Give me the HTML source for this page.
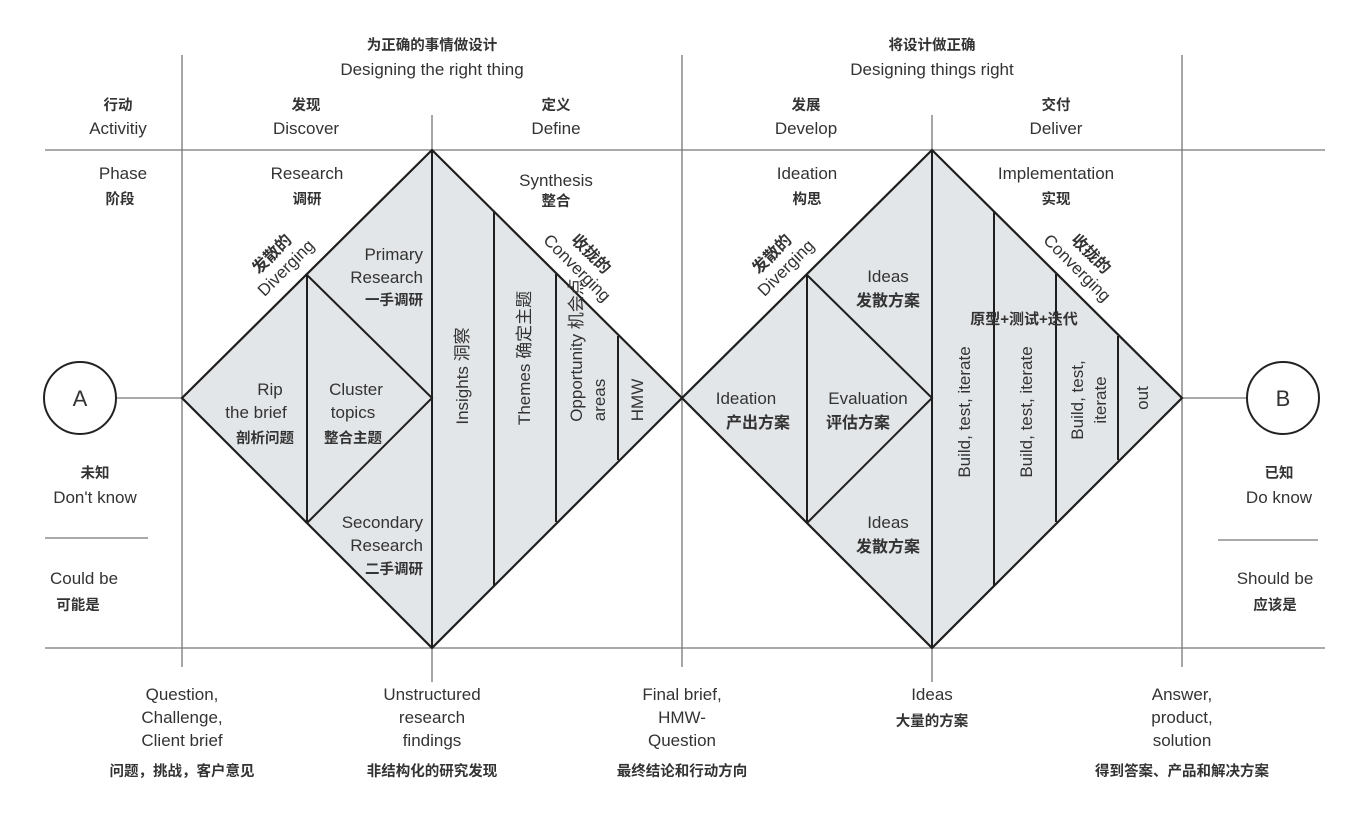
<!DOCTYPE html>
<html><head><meta charset="utf-8"><style>
html,body{margin:0;padding:0;background:#fff;}
svg{display:block;}
text{font-family:"Liberation Sans","Noto Sans CJK SC",sans-serif;fill:#333;text-anchor:middle;}
.e{font-size:17px;}
.c{font-size:14.5px;font-weight:bold;}
</style></head><body>
<svg width="1372" height="826" viewBox="0 0 1372 826">
<g stroke="#777" stroke-width="1.3" fill="none">
<line x1="45" y1="150" x2="1325" y2="150"/>
<line x1="45" y1="648" x2="1325" y2="648"/>
<line x1="182" y1="55" x2="182" y2="667"/>
<line x1="432" y1="115" x2="432" y2="682"/>
<line x1="682" y1="55" x2="682" y2="667"/>
<line x1="932" y1="115" x2="932" y2="682"/>
<line x1="1182" y1="55" x2="1182" y2="667"/>
<line x1="116" y1="398" x2="182" y2="398"/>
<line x1="1182" y1="398" x2="1247" y2="398"/>
<line x1="45" y1="538" x2="148" y2="538"/>
<line x1="1218" y1="540" x2="1318" y2="540"/>
</g>
<circle cx="80" cy="398" r="36" fill="#fff" stroke="#222" stroke-width="2"/>
<circle cx="1283" cy="398" r="36" fill="#fff" stroke="#222" stroke-width="2"/>
<text x="80" y="406" style="font-size:22px">A</text>
<text x="1283" y="406" style="font-size:22px">B</text>
<g stroke="#1e1e1e" stroke-width="2.2" fill="#e3e6e8" stroke-linejoin="miter">
<polygon points="182,398 432,150 682,398 432,648"/>
<polygon points="682,398 932,150 1182,398 932,648"/>
</g>
<g stroke="#1e1e1e" stroke-width="2" fill="none">
<polyline points="307,275 432,398 307,523"/>
<line x1="307" y1="275" x2="307" y2="523"/>
<line x1="432" y1="150" x2="432" y2="648"/>
<line x1="494" y1="212" x2="494" y2="586"/>
<line x1="556" y1="274" x2="556" y2="522"/>
<line x1="618" y1="336" x2="618" y2="460"/>
<polyline points="807,275 932,398 807,523"/>
<line x1="807" y1="275" x2="807" y2="523"/>
<line x1="932" y1="150" x2="932" y2="648"/>
<line x1="994" y1="212" x2="994" y2="586"/>
<line x1="1056" y1="274" x2="1056" y2="522"/>
<line x1="1118" y1="336" x2="1118" y2="460"/>
</g>
<text class="c" x="432" y="50">为正确的事情做设计</text>
<text class="e" x="432" y="75">Designing the right thing</text>
<text class="c" x="932" y="50">将设计做正确</text>
<text class="e" x="932" y="75">Designing things right</text>
<text class="c" x="118" y="110">行动</text><text class="e" x="118" y="134">Activitiy</text>
<text class="c" x="306" y="110">发现</text><text class="e" x="306" y="134">Discover</text>
<text class="c" x="556" y="110">定义</text><text class="e" x="556" y="134">Define</text>
<text class="c" x="806" y="110">发展</text><text class="e" x="806" y="134">Develop</text>
<text class="c" x="1056" y="110">交付</text><text class="e" x="1056" y="134">Deliver</text>
<text class="e" x="123" y="179">Phase</text><text class="c" x="120" y="204">阶段</text>
<text class="e" x="307" y="179">Research</text><text class="c" x="307" y="204">调研</text>
<text class="e" x="556" y="186">Synthesis</text><text class="c" x="556" y="206">整合</text>
<text class="e" x="807" y="179">Ideation</text><text class="c" x="807" y="204">构思</text>
<text class="e" x="1056" y="179">Implementation</text><text class="c" x="1056" y="204">实现</text>
<g transform="translate(280,262) rotate(-45)"><text class="c" x="0" y="-6" style="font-size:16px">发散的</text><text class="e" x="0" y="14">Diverging</text></g>
<g transform="translate(780,262) rotate(-45)"><text class="c" x="0" y="-6" style="font-size:16px">发散的</text><text class="e" x="0" y="14">Diverging</text></g>
<g transform="translate(583,262) rotate(45)"><text class="c" x="0" y="-6" style="font-size:16px">收拢的</text><text class="e" x="0" y="14">Converging</text></g>
<g transform="translate(1083,262) rotate(45)"><text class="c" x="0" y="-6" style="font-size:16px">收拢的</text><text class="e" x="0" y="14">Converging</text></g>
<text class="e" x="423" y="260" style="text-anchor:end">Primary</text>
<text class="e" x="423" y="283" style="text-anchor:end">Research</text>
<text class="c" x="423" y="305" style="text-anchor:end">一手调研</text>
<text class="e" x="423" y="528" style="text-anchor:end">Secondary</text>
<text class="e" x="423" y="551" style="text-anchor:end">Research</text>
<text class="c" x="423" y="574" style="text-anchor:end">二手调研</text>
<text class="e" x="270" y="395">Rip</text>
<text class="e" x="256" y="418">the brief</text>
<text class="c" x="265" y="443">剖析问题</text>
<text class="e" x="356" y="395">Cluster</text>
<text class="e" x="353" y="418">topics</text>
<text class="c" x="353" y="443">整合主题</text>
<text class="e" transform="translate(468,376) rotate(-90)">Insights  洞察</text>
<text class="e" transform="translate(530,358) rotate(-90)">Themes  确定主题</text>
<text class="e" transform="translate(582,350) rotate(-90)">Opportunity 机会点</text>
<text class="e" transform="translate(605,400) rotate(-90)">areas</text>
<text class="e" transform="translate(643,400) rotate(-90)">HMW</text>
<text class="e" x="888" y="282">Ideas</text>
<text class="c" x="888" y="306" style="font-size:16px">发散方案</text>
<text class="e" x="888" y="528">Ideas</text>
<text class="c" x="888" y="552" style="font-size:16px">发散方案</text>
<text class="e" x="746" y="404">Ideation</text>
<text class="c" x="758" y="428" style="font-size:16px">产出方案</text>
<text class="e" x="868" y="404">Evaluation</text>
<text class="c" x="858" y="428" style="font-size:16px">评估方案</text>
<text class="c" x="1024" y="324" style="font-size:15px">原型+测试+迭代</text>
<text class="e" transform="translate(970,412) rotate(-90)">Build, test, iterate</text>
<text class="e" transform="translate(1032,412) rotate(-90)">Build, test, iterate</text>
<text class="e" transform="translate(1083,400) rotate(-90)">Build, test,</text>
<text class="e" transform="translate(1106,400) rotate(-90)">iterate</text>
<text class="e" transform="translate(1148,398) rotate(-90)">out</text>
<text class="c" x="95" y="478">未知</text><text class="e" x="95" y="503">Don't know</text>
<text class="e" x="84" y="584">Could be</text><text class="c" x="78" y="610">可能是</text>
<text class="c" x="1279" y="478">已知</text><text class="e" x="1279" y="503">Do know</text>
<text class="e" x="1275" y="584">Should be</text><text class="c" x="1275" y="610">应该是</text>
<text class="e" x="182" y="700">Question,</text><text class="e" x="182" y="723">Challenge,</text><text class="e" x="182" y="746">Client brief</text><text class="c" x="182" y="776">问题，挑战，客户意见</text>
<text class="e" x="432" y="700">Unstructured</text><text class="e" x="432" y="723">research</text><text class="e" x="432" y="746">findings</text><text class="c" x="432" y="776">非结构化的研究发现</text>
<text class="e" x="682" y="700">Final brief,</text><text class="e" x="682" y="723">HMW-</text><text class="e" x="682" y="746">Question</text><text class="c" x="682" y="776">最终结论和行动方向</text>
<text class="e" x="932" y="700">Ideas</text><text class="c" x="932" y="726">大量的方案</text>
<text class="e" x="1182" y="700">Answer,</text><text class="e" x="1182" y="723">product,</text><text class="e" x="1182" y="746">solution</text><text class="c" x="1182" y="776">得到答案、产品和解决方案</text>
</svg>
</body></html>
